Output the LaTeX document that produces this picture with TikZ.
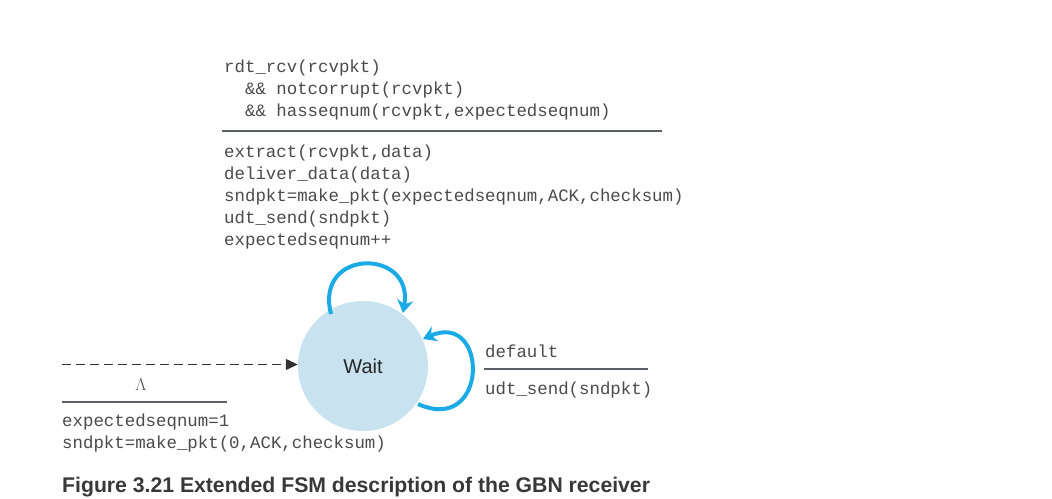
\documentclass[tikz,border=0pt]{standalone}
\usepackage{fontspec}
\setmainfont{Liberation Sans}
\newfontfamily\monof{Liberation Mono}
\usetikzlibrary{arrows.meta}
\definecolor{statefill}{HTML}{C9E2EF}
\definecolor{loopcol}{HTML}{1AABE6}
\definecolor{txtcol}{HTML}{4A4A4A}
\definecolor{rulecol}{HTML}{5A5E66}
\tikzset{
  mono/.style={font=\monof\fontsize{17.4}{22}\selectfont, text=txtcol, inner sep=0pt, align=left},
  rulel/.style={draw=rulecol, line width=2pt},
  loopedge/.style={draw=loopcol, line width=4pt, -{Stealth[length=13pt,width=16pt]}},
  statenode/.style={circle, fill=statefill, minimum size=130pt, inner sep=0pt, font=\fontsize{20}{24}\selectfont, text=black!85},
}
\begin{document}
\begin{tikzpicture}[x=1pt,y=-1pt]
\useasboundingbox (0,0) rectangle (1052,498);
% state
\node[statenode] (w) at (363,366) {Wait};
% top self loop
\coordinate (t1) at (331,314);
\coordinate (t2) at (403,313);
\draw[loopedge] (t1) .. controls (314,248) and (414,248) .. (t2);
% right self loop
\coordinate (r1) at (418,404);
\coordinate (r2) at (423,339);
\draw[loopedge] (r1) .. controls (489,436) and (489,310) .. (r2);
% initial dashed arrow
\coordinate (init) at (62,364.5);
\draw[draw=black!80, line width=1.3pt, dash pattern=on 9pt off 5pt, -{Triangle[length=12pt,width=11pt]}] (init) -- (w.west |- init);
% initial labels
\node[font=\fontsize{19}{20}\selectfont, text=txtcol] (lam) at (141,385) {$\Lambda$};
\coordinate (il1) at (62,402);
\coordinate (il2) at (227,402);
\draw[rulel] (il1) -- (il2);
\node[mono, anchor=north west] (initact) at (62,414) {expectedseqnum=1\\sndpkt=make\_pkt(0,ACK,checksum)};
% top transition
\node[mono, anchor=north west] (topcond) at (224,60) {rdt\_rcv(rcvpkt)\\\hphantom{xx}\&\& notcorrupt(rcvpkt)\\\hphantom{xx}\&\& hasseqnum(rcvpkt,expectedseqnum)};
\coordinate (tl1) at (222,131);
\coordinate (tl2) at (662,131);
\draw[rulel] (tl1) -- (tl2);
\node[mono, anchor=north west] (topact) at (224,145) {extract(rcvpkt,data)\\deliver\_data(data)\\sndpkt=make\_pkt(expectedseqnum,ACK,checksum)\\udt\_send(sndpkt)\\expectedseqnum++};
% right transition
\node[mono, anchor=north west] (rcond) at (485,345) {default};
\coordinate (rl1) at (484,369);
\coordinate (rl2) at (648,369);
\draw[rulel] (rl1) -- (rl2);
\node[mono, anchor=north west] (ract) at (485,382) {udt\_send(sndpkt)};
% caption
\node[anchor=west, inner sep=0pt, font=\bfseries\fontsize{21.2}{24}\selectfont, text=black!78] (cap) at (62,487) {Figure 3.21 Extended FSM description of the GBN receiver};
\end{tikzpicture}
\end{document}
